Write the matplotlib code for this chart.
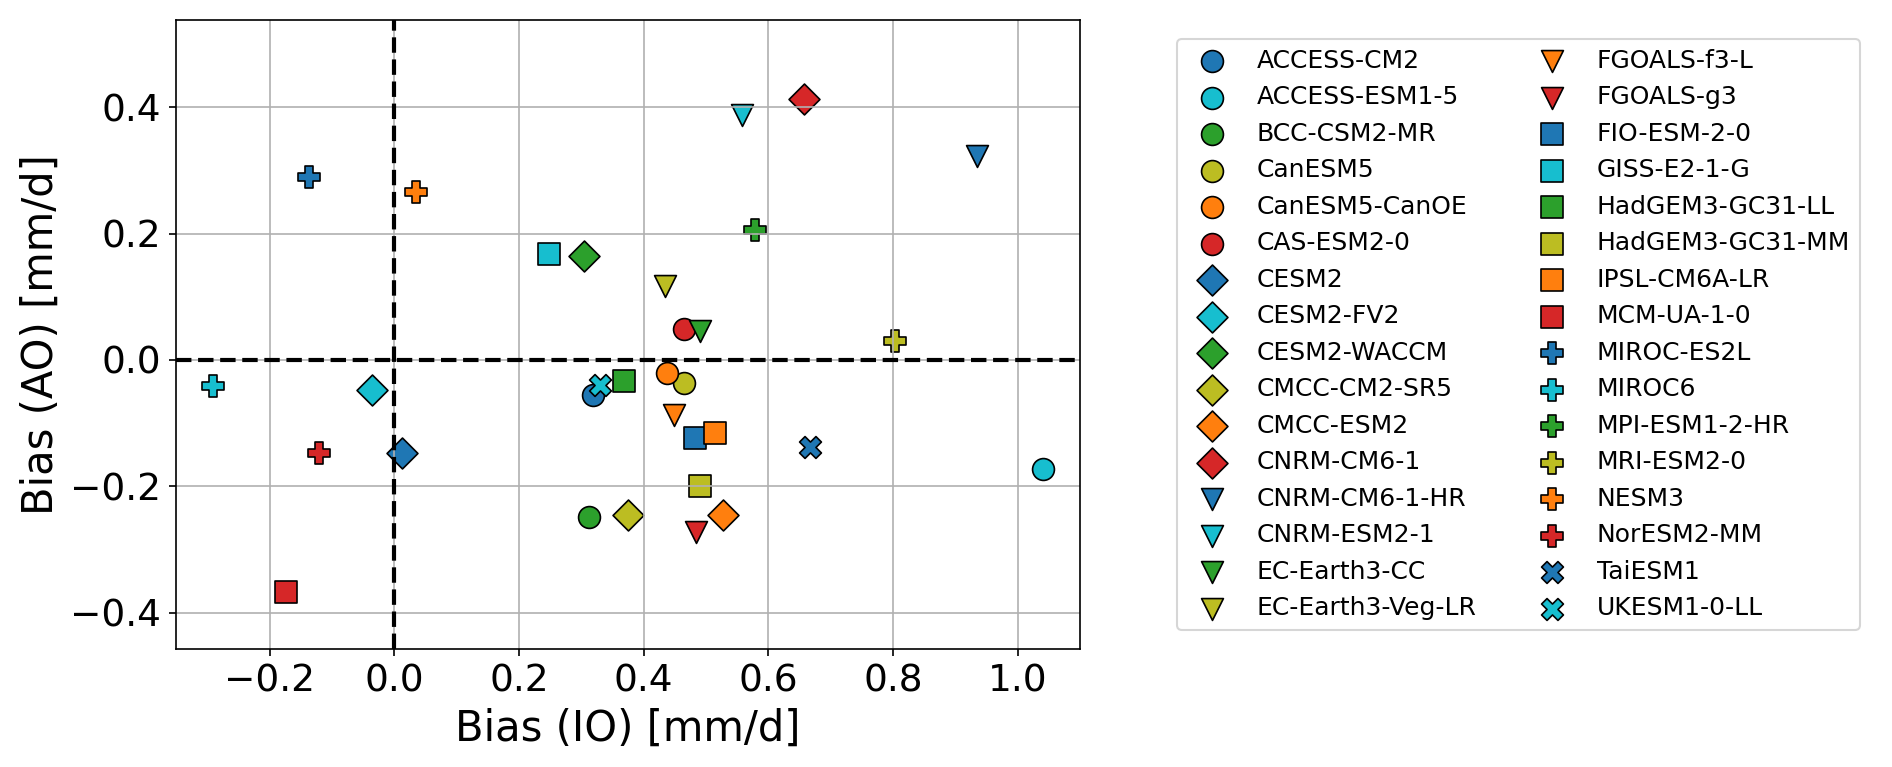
import matplotlib
matplotlib.use("Agg")
import matplotlib.pyplot as plt

models = [
    "ACCESS-CM2", "ACCESS-ESM1-5", "BCC-CSM2-MR", "CanESM5", "CanESM5-CanOE", "CAS-ESM2-0",
    "CESM2", "CESM2-FV2", "CESM2-WACCM", "CMCC-CM2-SR5", "CMCC-ESM2", "CNRM-CM6-1",
    "CNRM-CM6-1-HR", "CNRM-ESM2-1", "EC-Earth3-CC", "EC-Earth3-Veg-LR", "FGOALS-f3-L", "FGOALS-g3",
    "FIO-ESM-2-0", "GISS-E2-1-G", "HadGEM3-GC31-LL", "HadGEM3-GC31-MM", "IPSL-CM6A-LR", "MCM-UA-1-0",
    "MIROC-ES2L", "MIROC6", "MPI-ESM1-2-HR", "MRI-ESM2-0", "NESM3", "NorESM2-MM",
    "TaiESM1", "UKESM1-0-LL",
]
bias_io = [
    0.319, 1.040, 0.313, 0.464, 0.437, 0.465,
    0.013, -0.036, 0.305, 0.375, 0.527, 0.657,
    0.935, 0.558, 0.491, 0.434, 0.448, 0.483,
    0.482, 0.248, 0.369, 0.491, 0.515, -0.173,
    -0.137, -0.290, 0.578, 0.803, 0.035, -0.120,
    0.667, 0.330,
]
bias_ao = [
    -0.055, -0.172, -0.249, -0.036, -0.020, 0.049,
    -0.147, -0.048, 0.164, -0.245, -0.246, 0.413,
    0.322, 0.387, 0.046, 0.117, -0.087, -0.273,
    -0.124, 0.167, -0.033, -0.199, -0.115, -0.368,
    0.289, -0.042, 0.206, 0.030, 0.265, -0.148,
    -0.138, -0.040,
]
colors = ["tab:blue", "tab:cyan", "tab:green", "tab:olive", "tab:orange", "tab:red"]
markers = ["o", "D", "v", "s", "P", "X"]

fig = plt.figure(figsize=(1892 / 150, 767 / 150), dpi=150)
ax = fig.add_axes([0.093, 0.1535, 0.478, 0.8205])

for i, name in enumerate(models):
    ax.scatter(bias_io[i], bias_ao[i], s=110, marker=markers[i // 6],
               color=colors[i % 6], edgecolors="k", linewidths=0.8, label=name)

ax.axhline(0, color="k", ls="--", lw=2)
ax.axvline(0, color="k", ls="--", lw=2)
ax.grid(True)
ax.set_xlim(-0.35, 1.1)
ax.set_ylim(-0.458, 0.538)
ax.set_xticks([-0.2, 0.0, 0.2, 0.4, 0.6, 0.8, 1.0])
ax.set_yticks([-0.4, -0.2, 0.0, 0.2, 0.4])
ax.tick_params(labelsize=18)
ax.set_xlabel("Bias (IO) [mm/d]", fontsize=20)
ax.set_ylabel("Bias (AO) [mm/d]", fontsize=20)

fig.legend(loc="center left", bbox_to_anchor=(0.622, 0.5636), bbox_transform=fig.transFigure,
           ncol=2, fontsize=12, borderaxespad=0)

fig.savefig("out.png", dpi=150)
